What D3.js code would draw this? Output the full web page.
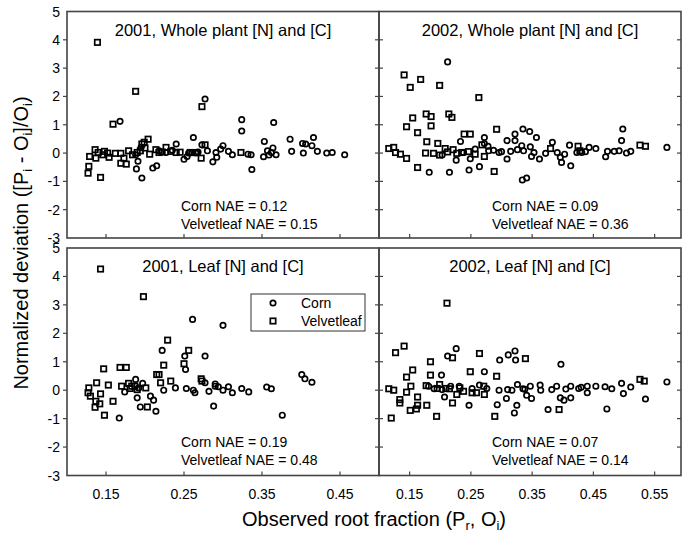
<!DOCTYPE html>
<html><head><meta charset="utf-8">
<script src="https://cdn.jsdelivr.net/npm/d3@7"></script>
<style>body{margin:0;background:#fff}svg{display:block}text{font-family:"Liberation Sans",Arial,sans-serif;fill:#000}</style>
</head><body><svg id="c" width="687" height="533"></svg>
<script>
const yTicks = [-3,-2,-1,0,1,2,3,4,5];
const xTicksLeft = [0.15,0.25,0.35,0.45];
const xTicksRight = [0.15,0.25,0.35,0.45,0.55];
const panelTitles = ["2001, Whole plant [N] and [C]","2002, Whole plant [N] and [C]","2001, Leaf [N] and [C]","2002, Leaf [N] and [C]"];
const cornNAE = ["0.12","0.09","0.19","0.07"];
const velvetNAE = ["0.15","0.36","0.48","0.14"];
const seriesNames = ["Corn","Velvetleaf"];

const velvet2001Whole = [[0.139,3.91],[0.188,2.18],[0.159,1.02],[0.273,1.64],[0.128,-0.47],[0.127,-0.71],[0.143,-0.86],[0.129,-0.12],[0.136,0.12],[0.137,-0.18],[0.146,-0.06],[0.148,0.06],[0.154,-0.15],[0.162,-0.01],[0.169,-0.01],[0.169,-0.36],[0.176,-0.39],[0.173,-0.18],[0.179,0.08],[0.184,-0.06],[0.194,0.08],[0.196,0.32],[0.199,0.38],[0.204,0.49],[0.200,0.18],[0.206,-0.04],[0.214,0.12],[0.218,0.02],[0.227,0.20],[0.233,0.06],[0.240,0.02],[0.258,0.02],[0.266,0.02],[0.272,-0.18],[0.277,0.29],[0.323,0.02],[0.140,0.02],[0.152,0.0],[0.190,0.02],[0.222,0.04],[0.245,0.03]];
const corn2001Whole = [[0.168,1.12],[0.277,1.91],[0.273,0.29],[0.324,1.18],[0.324,0.78],[0.365,1.08],[0.262,0.55],[0.191,-0.29],[0.189,-0.56],[0.196,-0.88],[0.210,-0.53],[0.215,-0.45],[0.188,-0.06],[0.195,0.20],[0.240,0.32],[0.250,-0.22],[0.254,-0.12],[0.260,0.01],[0.265,0.0],[0.280,0.08],[0.287,-0.31],[0.292,-0.15],[0.291,0.02],[0.297,0.14],[0.300,0.26],[0.307,0.06],[0.312,-0.06],[0.332,-0.04],[0.336,-0.06],[0.337,-0.58],[0.352,-0.13],[0.353,0.41],[0.357,0.08],[0.359,-0.07],[0.364,0.18],[0.368,-0.06],[0.362,0.02],[0.386,0.49],[0.388,0.06],[0.403,0.0],[0.402,0.34],[0.406,0.32],[0.414,0.26],[0.416,0.55],[0.421,0.06],[0.433,0.0],[0.440,0.02],[0.456,-0.06],[0.227,0.02],[0.235,0.10],[0.218,0.08],[0.256,0.0],[0.268,0.04]];
const velvet2002Whole = [[0.141,2.76],[0.151,2.32],[0.168,2.60],[0.199,2.39],[0.263,1.96],[0.155,1.24],[0.145,0.93],[0.163,0.72],[0.177,1.38],[0.185,1.29],[0.185,0.96],[0.214,1.38],[0.219,1.26],[0.178,0.40],[0.196,0.34],[0.239,0.67],[0.249,0.67],[0.292,0.84],[0.116,0.16],[0.124,0.20],[0.127,0.02],[0.135,-0.04],[0.145,-0.19],[0.163,-0.51],[0.176,0.0],[0.189,-0.01],[0.199,-0.07],[0.208,0.16],[0.221,0.12],[0.227,-0.01],[0.235,0.02],[0.257,-0.04],[0.272,-0.12],[0.288,-0.65],[0.268,0.29],[0.380,0.16],[0.425,0.24],[0.428,0.08],[0.526,0.28],[0.535,0.24],[0.212,0.04],[0.246,0.05]];
const corn2002Whole = [[0.212,3.22],[0.182,-0.68],[0.215,-0.68],[0.247,-0.60],[0.264,-0.48],[0.233,0.41],[0.272,0.55],[0.272,0.34],[0.278,0.24],[0.296,0.02],[0.309,0.44],[0.322,0.67],[0.322,0.44],[0.335,0.85],[0.346,0.76],[0.357,0.55],[0.309,-0.21],[0.334,-0.95],[0.341,-0.88],[0.333,0.26],[0.347,0.22],[0.349,-0.12],[0.362,-0.21],[0.383,0.38],[0.396,-0.15],[0.398,-0.33],[0.413,-0.45],[0.411,0.28],[0.431,0.02],[0.443,0.20],[0.454,0.16],[0.470,-0.13],[0.473,0.06],[0.484,0.06],[0.492,0.08],[0.496,0.44],[0.498,0.85],[0.504,0.0],[0.511,0.06],[0.570,0.20],[0.203,-0.07],[0.226,-0.25],[0.238,0.02],[0.249,-0.20],[0.257,0.14],[0.279,0.08],[0.315,0.06],[0.326,0.12],[0.336,0.08],[0.353,0.02],[0.372,-0.01],[0.391,0.02],[0.403,-0.04],[0.423,0.02],[0.437,0.05],[0.287,0.10],[0.300,0.05]];
const velvet2001Leaf = [[0.143,4.26],[0.198,3.29],[0.229,1.76],[0.256,1.40],[0.250,0.93],[0.224,0.88],[0.215,0.55],[0.218,0.55],[0.168,0.80],[0.176,0.80],[0.147,0.75],[0.128,0.08],[0.127,-0.09],[0.130,-0.21],[0.138,0.26],[0.143,-0.13],[0.137,-0.39],[0.136,-0.60],[0.142,-0.48],[0.148,-0.88],[0.153,0.18],[0.159,-0.39],[0.170,0.14],[0.179,0.24],[0.183,0.14],[0.190,0.02],[0.201,0.08],[0.203,-0.59],[0.220,0.26],[0.233,0.32],[0.272,0.40],[0.273,0.32],[0.181,0.06],[0.187,0.14]];
const corn2001Leaf = [[0.261,2.49],[0.300,2.28],[0.277,1.20],[0.222,1.40],[0.251,1.20],[0.252,0.73],[0.188,0.38],[0.174,-0.06],[0.190,-0.27],[0.194,-0.59],[0.167,-0.98],[0.207,-0.21],[0.211,-0.35],[0.214,-0.74],[0.197,0.24],[0.192,0.08],[0.224,0.0],[0.239,0.08],[0.253,0.06],[0.262,0.0],[0.264,-0.09],[0.277,0.26],[0.282,-0.04],[0.288,-0.56],[0.290,0.14],[0.294,0.12],[0.300,0.0],[0.307,0.12],[0.312,-0.09],[0.324,0.06],[0.333,-0.06],[0.356,0.11],[0.362,0.05],[0.376,-0.88],[0.401,0.55],[0.405,0.40],[0.414,0.28],[0.290,0.22]];
const velvet2002Leaf = [[0.211,3.06],[0.127,1.32],[0.141,1.55],[0.155,0.71],[0.145,0.46],[0.220,1.14],[0.264,1.29],[0.184,1.00],[0.184,0.53],[0.249,0.65],[0.292,0.49],[0.339,1.11],[0.116,0.05],[0.124,0.0],[0.134,-0.33],[0.134,-0.45],[0.151,-0.71],[0.161,-0.66],[0.163,-0.53],[0.163,-0.24],[0.152,0.14],[0.145,-0.07],[0.178,-0.53],[0.120,-0.98],[0.194,-0.92],[0.177,0.16],[0.199,0.20],[0.195,0.06],[0.209,0.06],[0.220,-0.45],[0.227,-0.15],[0.238,-0.04],[0.252,-0.09],[0.259,-0.09],[0.272,-0.15],[0.289,-0.92],[0.394,-0.68],[0.526,0.38],[0.533,0.32],[0.271,0.14],[0.215,0.05],[0.232,0.08]];
const corn2002Leaf = [[0.226,1.46],[0.212,1.20],[0.322,1.38],[0.311,1.24],[0.323,1.06],[0.297,1.06],[0.272,0.65],[0.202,0.53],[0.397,0.91],[0.207,-0.24],[0.247,-0.53],[0.293,-0.51],[0.308,-0.29],[0.325,-0.53],[0.321,-0.80],[0.349,-0.29],[0.341,-0.18],[0.376,-0.68],[0.413,-0.27],[0.402,-0.35],[0.396,-0.27],[0.440,-0.09],[0.472,-0.66],[0.499,-0.12],[0.511,0.11],[0.535,-0.31],[0.570,0.29],[0.496,0.24],[0.480,0.05],[0.469,0.12],[0.454,0.14],[0.440,0.14],[0.426,0.06],[0.413,0.14],[0.390,0.14],[0.382,0.02],[0.363,0.18],[0.347,0.14],[0.335,0.05],[0.326,0.20],[0.317,0.0],[0.296,0.0],[0.276,0.06],[0.264,0.18],[0.252,0.06],[0.231,0.14],[0.217,0.14],[0.203,0.02],[0.190,0.05],[0.181,0.14],[0.364,0.0],[0.310,0.02],[0.338,0.03],[0.405,0.04],[0.430,0.10]];

const cornSets = [corn2001Whole, corn2002Whole, corn2001Leaf, corn2002Leaf];
const velvetSets = [velvet2001Whole, velvet2002Whole, velvet2001Leaf, velvet2002Leaf];

const svg = d3.select("#c");
const frameColor = "#444";
const SQ = 5.4, CR = 2.7, MSW = 1.7;
const layout = [
  {x0:67, x1:379, dmax:0.50, y0:11.5, y1:238, ticks:xTicksLeft, left:true, bottom:false},
  {x0:379, x1:681, dmax:0.593, y0:11.5, y1:238, ticks:xTicksRight, left:false, bottom:false},
  {x0:67, x1:379, dmax:0.50, y0:248, y1:475.5, ticks:xTicksLeft, left:true, bottom:true},
  {x0:379, x1:681, dmax:0.593, y0:248, y1:475.5, ticks:xTicksRight, left:false, bottom:true}
];

layout.forEach((L, i) => {
  const x = d3.scaleLinear().domain([0.10, L.dmax]).range([L.x0, L.x1]);
  const y = d3.scaleLinear().domain([-3, 5]).range([L.y1, L.y0]);
  const g = svg.append("g");

  const inner = yTicks.slice(1, -1);
  g.selectAll(".tl").data(inner).join("line")
    .attr("x1", L.left ? L.x0 - 4 : L.x0).attr("x2", L.left ? L.x0 : L.x0 + 4)
    .attr("y1", d => y(d)).attr("y2", d => y(d))
    .attr("stroke", frameColor).attr("stroke-width", 1.2);
  g.selectAll(".tr").data(inner).join("line")
    .attr("x1", L.x1).attr("x2", L.x1 - 4).attr("y1", d => y(d)).attr("y2", d => y(d))
    .attr("stroke", frameColor).attr("stroke-width", 1.2);
  g.selectAll(".tb").data(L.ticks).join("line")
    .attr("x1", d => x(d)).attr("x2", d => x(d)).attr("y1", L.y1).attr("y2", L.y1 - 4)
    .attr("stroke", frameColor).attr("stroke-width", 1.2);

  if (L.left) {
    g.selectAll(".yl").data(yTicks).join("text")
      .attr("x", L.x0 - 7).attr("y", d => y(d) + 5)
      .attr("text-anchor", "end").attr("font-size", 14).text(d => d);
  }
  if (L.bottom) {
    g.selectAll(".xl").data(L.ticks).join("text")
      .attr("x", d => x(d)).attr("y", L.y1 + 23)
      .attr("text-anchor", "middle").attr("font-size", 14).text(d => d.toFixed(2));
  }

  g.selectAll(".corn").data(cornSets[i]).join("circle")
    .attr("cx", d => x(d[0])).attr("cy", d => y(d[1])).attr("r", CR)
    .attr("fill", "none").attr("stroke", "#000").attr("stroke-width", MSW);
  g.selectAll(".vl").data(velvetSets[i]).join("rect")
    .attr("x", d => x(d[0]) - SQ / 2).attr("y", d => y(d[1]) - SQ / 2)
    .attr("width", SQ).attr("height", SQ)
    .attr("fill", "none").attr("stroke", "#000").attr("stroke-width", MSW);

  g.append("rect").attr("x", L.x0).attr("y", L.y0).attr("width", L.x1 - L.x0).attr("height", L.y1 - L.y0)
    .attr("fill", "none").attr("stroke", frameColor).attr("stroke-width", 1.6);

  g.append("text").attr("x", (L.x0 + L.x1) / 2).attr("y", L.y0 + 24)
    .attr("text-anchor", "middle").attr("font-size", 16.5).text(panelTitles[i]);

  const nx = L.left ? L.x0 + 114 : L.x0 + 113;
  g.append("text").attr("x", nx).attr("y", L.y0 + 199).attr("font-size", 14).text("Corn NAE = " + cornNAE[i]);
  g.append("text").attr("x", nx).attr("y", L.y0 + 217).attr("font-size", 14).text("Velvetleaf NAE = " + velvetNAE[i]);
});

const lg = svg.append("g");
lg.append("rect").attr("x", 251).attr("y", 294).attr("width", 114).attr("height", 37)
  .attr("fill", "#fff").attr("stroke", "#333").attr("stroke-width", 1);
lg.append("circle").attr("cx", 273).attr("cy", 303).attr("r", CR)
  .attr("fill", "none").attr("stroke", "#000").attr("stroke-width", MSW);
lg.append("rect").attr("x", 273 - SQ / 2).attr("y", 321 - SQ / 2).attr("width", SQ).attr("height", SQ)
  .attr("fill", "none").attr("stroke", "#000").attr("stroke-width", MSW);
lg.selectAll(".lt").data(seriesNames).join("text")
  .attr("x", 301).attr("y", (d, i) => 308 + i * 18).attr("font-size", 14).text(d => d);

const xt = svg.append("text").attr("x", 374).attr("y", 526).attr("text-anchor", "middle").attr("font-size", 20);
xt.append("tspan").text("Observed root fraction (P");
xt.append("tspan").attr("font-size", 13).attr("dy", 3.5).text("r");
xt.append("tspan").attr("dy", -3.5).text(", O");
xt.append("tspan").attr("font-size", 13).attr("dy", 3.5).text("i");
xt.append("tspan").attr("dy", -3.5).text(")");

const yt = svg.append("text").attr("transform", "translate(28,243) rotate(-90)").attr("text-anchor", "middle").attr("font-size", 20);
yt.append("tspan").text("Normalized deviation ([P");
yt.append("tspan").attr("font-size", 13).attr("dy", 4).text("i");
yt.append("tspan").attr("dy", -4).text(" - O");
yt.append("tspan").attr("font-size", 13).attr("dy", 4).text("i");
yt.append("tspan").attr("dy", -4).text("]/O");
yt.append("tspan").attr("font-size", 13).attr("dy", 4).text("i");
yt.append("tspan").attr("dy", -4).text(")");
</script></body></html>
